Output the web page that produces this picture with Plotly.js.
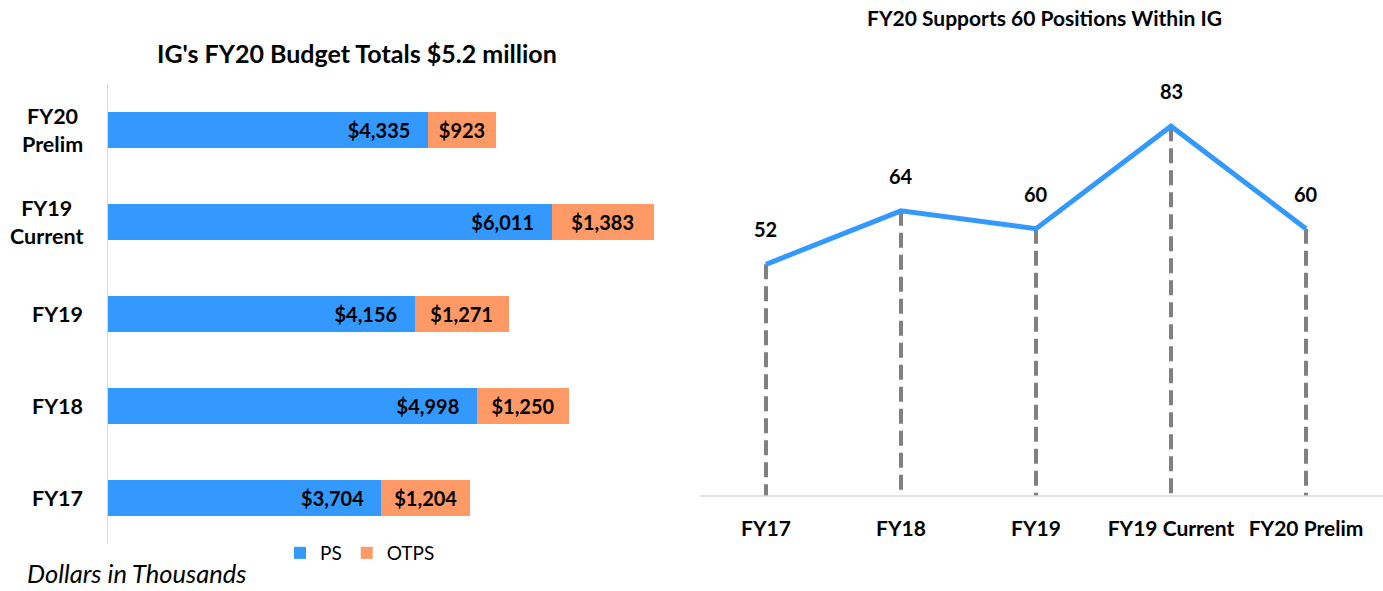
<!DOCTYPE html>
<html><head><meta charset="utf-8">
<script src="https://cdn.plot.ly/plotly-3.0.1.min.js"></script>
<style>html,body{margin:0;padding:0;background:#fff}#c{width:1383px;height:591px}</style>
</head><body><div id="c"></div>
<script>
const barCategories = ["FY17", "FY18", "FY19", "FY19<br>Current", "FY20<br>Prelim"];
const psValues = [3704, 4998, 4156, 6011, 4335];
const otpsValues = [1204, 1250, 1271, 1383, 923];
const lineCategories = ["FY17", "FY18", "FY19", "FY19 Current", "FY20 Prelim"];
const positions = [52, 64, 60, 83, 60];

const FONT = "Lato, Carlito, 'Open Sans', sans-serif";
const blue = "#3399FF", orange = "#FF9966", gray = "#808080";
const NB = "\u00a0";

const dropX = [], dropY = [];
lineCategories.forEach((c, i) => { dropX.push(c, c, null); dropY.push(positions[i], 0, null); });

const traces = [
  {type: "bar", orientation: "h", name: "PS", y: barCategories, x: psValues,
   marker: {color: blue}, width: 0.4, text: psValues.map(v => "$" + v.toLocaleString("en-US") + NB + NB + NB),
   textposition: "inside", insidetextanchor: "end", constraintext: "none",
   textfont: {family: FONT, size: 20, color: "#000", weight: 700}, hoverinfo: "none", xaxis: "x", yaxis: "y"},
  {type: "bar", orientation: "h", name: "OTPS", y: barCategories, x: otpsValues,
   marker: {color: orange}, width: 0.4, text: otpsValues.map(v => "$" + v.toLocaleString("en-US")),
   textposition: "inside", insidetextanchor: "middle", constraintext: "none",
   textfont: {family: FONT, size: 20, color: "#000", weight: 700}, hoverinfo: "none", xaxis: "x", yaxis: "y"},
  {type: "scatter", mode: "lines", x: dropX, y: dropY, showlegend: false,
   line: {color: gray, width: 4, dash: "15px,7px"}, xaxis: "x2", yaxis: "y2", hoverinfo: "none"},
  {type: "scatter", mode: "lines", x: lineCategories, y: positions, showlegend: false,
   line: {color: blue, width: 5}, xaxis: "x2", yaxis: "y2", hoverinfo: "none"}
];

const annotations = [
  {text: "IG's FY20 Budget Totals $5.2 million", xref: "paper", yref: "paper", x: 357/1383, y: 1 - 53/591,
   showarrow: false, xanchor: "center", yanchor: "middle", font: {family: FONT, size: 25, color: "#000", weight: 700}},
  {text: "FY20 Supports 60 Positions Within IG", xref: "paper", yref: "paper", x: 1044/1383, y: 1 - 17/591,
   showarrow: false, xanchor: "center", yanchor: "middle", font: {family: FONT, size: 21, color: "#000", weight: 700}},
  {text: "<i>Dollars in Thousands</i>", xref: "paper", yref: "paper", x: 26/1383, y: 1 - 573/591,
   showarrow: false, xanchor: "left", yanchor: "middle", borderpad: 0, font: {family: FONT, size: 25.5, color: "#000"}}
];
barCategories.forEach(c => annotations.push({
  text: c, xref: "x", yref: "y", x: 0, y: c, xshift: -23, showarrow: false,
  xanchor: "right", yanchor: "middle", align: "center",
  font: {family: FONT, size: 21.5, color: "#000", weight: 700}
}));
lineCategories.forEach((c, i) => annotations.push({
  text: String(positions[i]), xref: "x2", yref: "y2", x: c, y: positions[i], yshift: 21,
  showarrow: false, xanchor: "center", yanchor: "bottom", font: {family: FONT, size: 20, color: "#000", weight: 700}
}));

const layout = {
  width: 1383, height: 591, margin: {l: 0, r: 0, t: 0, b: 0},
  paper_bgcolor: "#fff", plot_bgcolor: "rgba(0,0,0,0)",
  barmode: "stack", bargap: 0.6,
  font: {family: FONT, color: "#000"},
  xaxis: {domain: [108/1383, 0.505], range: [0, 8000], showgrid: false, zeroline: false,
          showticklabels: false, showline: false, fixedrange: true},
  yaxis: {domain: [1 - 544/591, 1 - 84/591], type: "category", categoryorder: "array", categoryarray: barCategories,
          range: [-0.5, 4.5], showgrid: false, zeroline: false, showline: true, linecolor: "#d9d9d9", linewidth: 1.5,
          ticks: "", showticklabels: false},
  xaxis2: {domain: [698.5/1383, 1373.5/1383], type: "category", categoryorder: "array", categoryarray: lineCategories,
           range: [-0.5, 4.5], showgrid: false, zeroline: false, showline: false, ticks: "", anchor: "y2",
           tickfont: {family: FONT, size: 21, color: "#000", weight: 700}, ticklabelstandoff: 18},
  yaxis2: {domain: [1 - 496/591, 1 - 95/591], range: [0, 90], showgrid: false, zeroline: false,
           showticklabels: false, showline: false, anchor: "x2"},
  shapes: [{type: "line", xref: "paper", yref: "paper", x0: 700/1383, x1: 1, y0: 1 - 496/591, y1: 1 - 496/591,
            line: {color: "#d9d9d9", width: 1.5}}],
  legend: {orientation: "h", x: 360/1383, y: 1 - 553/591, xanchor: "center", yanchor: "middle",
           font: {family: FONT, size: 19, color: "#000"}, traceorder: "normal"},
  annotations: annotations,
  showlegend: true
};
Plotly.newPlot("c", traces, layout, {displayModeBar: false, staticPlot: true});
</script></body></html>
